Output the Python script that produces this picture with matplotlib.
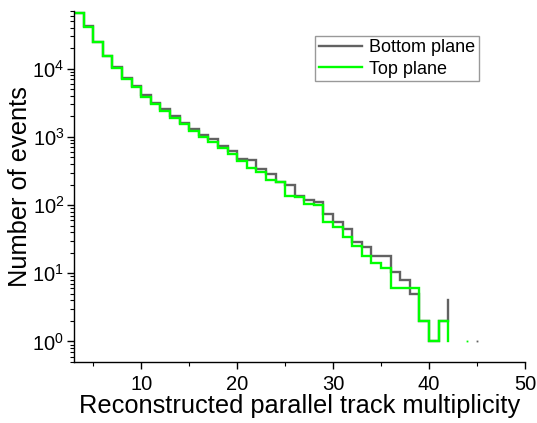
import numpy as np
import matplotlib
matplotlib.use("Agg")
import matplotlib.pyplot as plt
from matplotlib.lines import Line2D

plt.rcParams['font.family'] = ['Liberation Sans', 'DejaVu Sans']
plt.rcParams['mathtext.fontset'] = 'custom'
plt.rcParams['mathtext.rm'] = 'Liberation Sans'
plt.rcParams['mathtext.it'] = 'Liberation Sans:italic'

# multiplicity bins (left edge of each bin)
multiplicity = np.arange(3, 46)

# counts per bin, 0 = empty bin
bottom_plane = [66000, 41500, 24500, 15500, 10400, 7250, 5500, 4050, 3160, 2550,
                2000, 1610, 1290, 1070, 920, 733, 610, 470, 452, 334,
                290, 217, 195, 134, 120, 111, 74, 56, 44, 29,
                24, 18, 18, 10.4, 8, 5, 2, 1, 2, 4,
                0, 0, 1]
top_plane = [65000, 40700, 24300, 15300, 10100, 6950, 5300, 3830, 2990, 2420,
             1890, 1525, 1200, 985, 850, 690, 560, 440, 355, 305,
             232, 215, 134, 130, 104, 99, 57, 47, 34, 25.5,
             18, 14, 12, 6, 6, 6, 2, 1, 2, 1,
             0, 1, 0]

c_bottom = '#626262'
c_top = '#00ff00'


def draw_steps(ax, x, y, colour):
    # split into runs of non-empty bins, a lone bin is just a dot
    x = np.asarray(x)
    y = np.asarray(y, dtype=float)
    ok = y > 0
    i = 0
    while i < len(y):
        if not ok[i]:
            i += 1
            continue
        j = i
        while j + 1 < len(y) and ok[j + 1]:
            j += 1
        if j > i:
            ax.plot(x[i:j + 1], y[i:j + 1], drawstyle='steps-post', color=colour,
                    lw=1.7, solid_joinstyle='miter')
        else:
            ax.plot(x[i], y[i], 's', color=colour, ms=1.3, mew=0)
        i = j + 1


fig = plt.figure(figsize=(5.37, 4.23), dpi=100)
ax = fig.add_axes([74 / 537, 61 / 423, 451 / 537, 351 / 423])

draw_steps(ax, multiplicity, bottom_plane, c_bottom)
draw_steps(ax, multiplicity, top_plane, c_top)

ax.set_yscale('log')
ax.set_xlim(3, 50)
ax.set_ylim(0.5, 7e4)

for s in ['top', 'right']:
    ax.spines[s].set_visible(False)
for s in ['left', 'bottom']:
    ax.spines[s].set_linewidth(1.0)

ax.set_xticks([10, 20, 30, 40, 50])
ax.set_xticks([5, 15, 25, 35, 45], minor=True)
ax.tick_params(axis='both', which='major', direction='out', length=5, width=1,
               labelsize=14.5)
ax.tick_params(axis='both', which='minor', direction='out', length=3, width=0.8)
ax.tick_params(axis='x', which='major', pad=4)
ax.tick_params(axis='y', which='major', pad=2)

ax.set_xlabel('Reconstructed parallel track multiplicity', fontsize=18.3, labelpad=0)
ax.set_ylabel('Number of events', fontsize=18.3, labelpad=0)

handles = [Line2D([], [], color=c_bottom, lw=1.7),
           Line2D([], [], color=c_top, lw=1.7)]
leg = ax.legend(handles, ['Bottom plane', 'Top plane'], loc='upper left',
                bbox_to_anchor=(0.535, 0.93), fontsize=13, frameon=True,
                fancybox=False, borderpad=0.2, handlelength=2.4,
                handletextpad=0.4, labelspacing=0.25, borderaxespad=0)
leg.get_frame().set_edgecolor('#808080')
leg.get_frame().set_linewidth(1.0)

fig.savefig('out.png', dpi=100)
